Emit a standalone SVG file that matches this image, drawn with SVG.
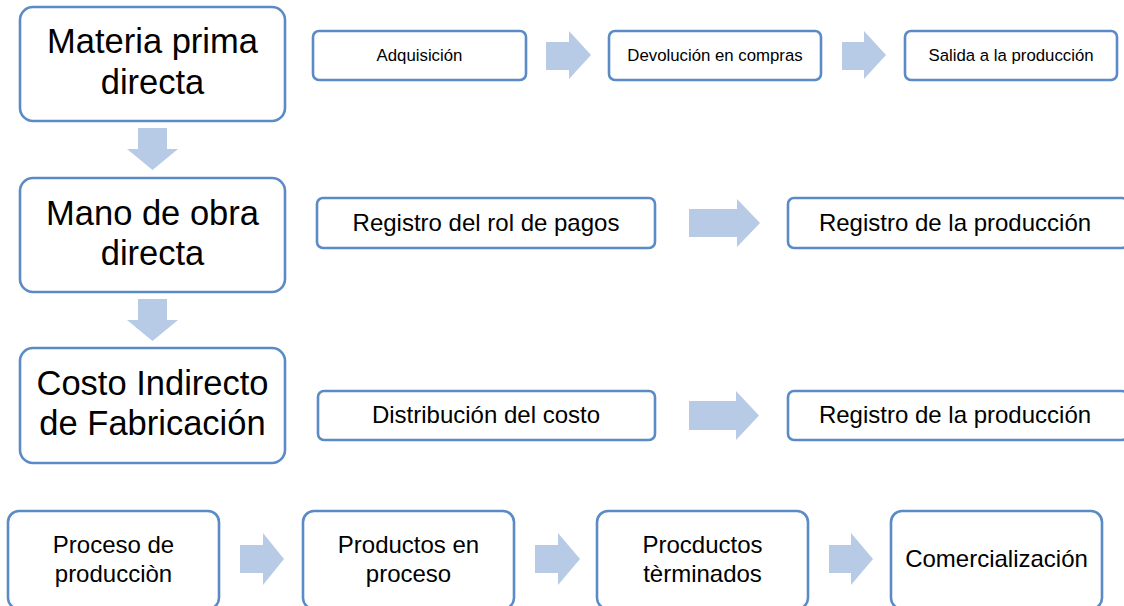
<svg xmlns="http://www.w3.org/2000/svg" width="1124" height="606" viewBox="0 0 1124 606">
<style>
.box{fill:#ffffff;stroke:#5b8bc6;stroke-width:2.6}
.arr{fill:#b7cbe7;stroke:none}
text{font-family:"Liberation Sans",Arial,sans-serif;fill:#000000;text-anchor:middle}
.big{font-size:34.5px}
.mid{font-size:24px}
.sm{font-size:16.8px}
</style>
<rect width="1124" height="606" fill="#ffffff"/>
<g id="connectors">
  <polygon class="arr" points="138,128 167,128 167,149 178,149 152.5,170 127,149 138,149"/>
  <polygon class="arr" points="138,299 167,299 167,320 178,320 152.5,341 127,320 138,320"/>
  <polygon class="arr" points="546,42 569,42 569,31 591,55 569,79 569,70 546,70"/>
  <polygon class="arr" points="842,42 864,42 864,31 886,55 864,79 864,70 842,70"/>
  <polygon class="arr" points="689,209 737,209 737,199 760,223 737,247 737,237 689,237"/>
  <polygon class="arr" points="689,401 736,401 736,391 759,415.5 736,440 736,430 689,430"/>
  <polygon class="arr" points="240,545 263,545 263,533 284,559 263,585 263,573 240,573"/>
  <polygon class="arr" points="535,545 558,545 558,533 580,559 558,585 558,573 535,573"/>
  <polygon class="arr" points="829,545 851,545 851,533 873,559 851,585 851,573 829,573"/>
</g>
<g id="materia-prima">
  <rect class="box" x="20" y="7" width="265" height="114" rx="13"/>
  <text class="big" x="152.5" y="53">Materia prima</text>
  <text class="big" x="152.5" y="94">directa</text>
</g>
<g id="adquisicion">
  <rect class="box" x="313" y="31" width="213" height="49" rx="6"/>
  <text class="sm" x="419.5" y="61">Adquisición</text>
</g>
<g id="devolucion">
  <rect class="box" x="609" y="31" width="212" height="49" rx="6"/>
  <text class="sm" x="715" y="61">Devolución en compras</text>
</g>
<g id="salida">
  <rect class="box" x="905" y="31" width="212" height="49" rx="6"/>
  <text class="sm" x="1011" y="61">Salida a la producción</text>
</g>
<g id="mano-de-obra">
  <rect class="box" x="20" y="178" width="265" height="114" rx="13"/>
  <text class="big" x="152.5" y="225">Mano de obra</text>
  <text class="big" x="152.5" y="265">directa</text>
</g>
<g id="registro-rol">
  <rect class="box" x="317" y="198" width="338" height="50" rx="6"/>
  <text class="mid" x="486" y="231">Registro del rol de pagos</text>
</g>
<g id="registro-produccion-1">
  <rect class="box" x="788" y="198" width="340" height="50" rx="6"/>
  <text class="mid" x="955" y="231">Registro de la producción</text>
</g>
<g id="costo-indirecto">
  <rect class="box" x="20" y="348" width="265" height="115" rx="13"/>
  <text class="big" x="152.5" y="395">Costo Indirecto</text>
  <text class="big" x="152.5" y="435">de Fabricación</text>
</g>
<g id="distribucion">
  <rect class="box" x="318" y="391" width="337" height="49" rx="6"/>
  <text class="mid" x="486" y="423">Distribución del costo</text>
</g>
<g id="registro-produccion-2">
  <rect class="box" x="788" y="391" width="340" height="49" rx="6"/>
  <text class="mid" x="955" y="423">Registro de la producción</text>
</g>
<g id="proceso-produccion">
  <rect class="box" x="8" y="511" width="211" height="98" rx="11"/>
  <text class="mid" x="113.5" y="553">Proceso de</text>
  <text class="mid" x="113.5" y="582">producciòn</text>
</g>
<g id="productos-proceso">
  <rect class="box" x="303" y="511" width="211" height="98" rx="11"/>
  <text class="mid" x="408.5" y="553">Productos en</text>
  <text class="mid" x="408.5" y="582">proceso</text>
</g>
<g id="productos-terminados">
  <rect class="box" x="597" y="511" width="211" height="98" rx="11"/>
  <text class="mid" x="702.5" y="553">Procductos</text>
  <text class="mid" x="702.5" y="582">tèrminados</text>
</g>
<g id="comercializacion">
  <rect class="box" x="891" y="511" width="211" height="98" rx="11"/>
  <text class="mid" x="996.5" y="567">Comercialización</text>
</g>
</svg>
